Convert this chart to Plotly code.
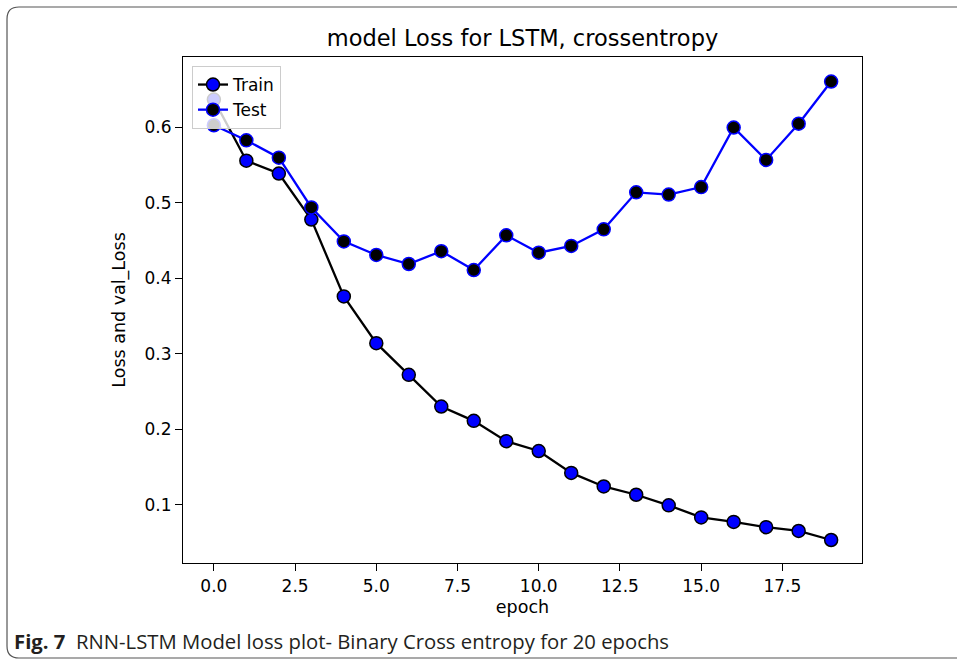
import plotly.graph_objects as go

# ---- data ----
epochs = list(range(20))
train_loss = [0.637, 0.556, 0.539, 0.478, 0.376, 0.314, 0.272, 0.230, 0.211, 0.184,
              0.171, 0.142, 0.124, 0.113, 0.099, 0.083, 0.077, 0.070, 0.065, 0.053]
test_loss = [0.603, 0.583, 0.560, 0.494, 0.449, 0.431, 0.419, 0.436, 0.411, 0.457,
             0.434, 0.443, 0.465, 0.514, 0.511, 0.521, 0.600, 0.557, 0.605, 0.661]
x_ticks = [0.0, 2.5, 5.0, 7.5, 10.0, 12.5, 15.0, 17.5]
y_ticks = [0.1, 0.2, 0.3, 0.4, 0.5, 0.6]

title_text = "model Loss for LSTM, crossentropy"
x_label = "epoch"
y_label = "Loss and val_Loss"
caption_bold = "Fig. 7"
caption_text = "RNN-LSTM Model loss plot- Binary Cross entropy for 20 epochs"

# ---- layout geometry (pixels) ----
W, H = 957, 662
L, R, T, B = 183, 862, 57, 563  # plot-area edges in px


def px2paper(px, py):
    return (px - L) / (R - L), (B - py) / (B - T)


font_mpl = "DejaVu Sans"

fig = go.Figure()
fig.add_trace(go.Scatter(
    x=epochs, y=train_loss, mode="lines+markers", name="Train",
    line=dict(color="black", width=2.3),
    marker=dict(symbol="circle", size=13, color="#0000ff", line=dict(color="black", width=1.5)),
))
fig.add_trace(go.Scatter(
    x=epochs, y=test_loss, mode="lines+markers", name="Test",
    line=dict(color="#0000ff", width=2.3),
    marker=dict(symbol="circle", size=13, color="black", line=dict(color="#0000ff", width=1.5)),
))

# outer rounded frame (extends past right edge)
x0, y0, x1, y1, r = 7, 7, 990, 658, 12


def P(px, py):
    a, b = px2paper(px, py)
    return f"{a:.5f},{b:.5f}"


path = (f"M {P(x1, y0)} L {P(x0 + r, y0)} Q {P(x0, y0)} {P(x0, y0 + r)} "
        f"L {P(x0, y1 - r)} Q {P(x0, y1)} {P(x0 + r, y1)} L {P(x1, y1)}")

fig.update_layout(
    width=W, height=H,
    margin=dict(l=L, r=W - R, t=T, b=H - B, pad=0),
    paper_bgcolor="white", plot_bgcolor="white",
    showlegend=True,
    legend=dict(
        x=px2paper(192, 0)[0], y=px2paper(0, 66)[1], xanchor="left", yanchor="top",
        bgcolor="rgba(255,255,255,0.8)", bordercolor="#cccccc", borderwidth=1,
        font=dict(family=font_mpl, size=17, color="black"),
        itemsizing="trace", tracegroupgap=4, entrywidth=72,
    ),
    title=dict(text=title_text, x=(L + R) / 2 / W, xanchor="center",
               y=1 - 38 / H, yanchor="middle",
               font=dict(family=font_mpl, size=22.5, color="black")),
    xaxis=dict(
        range=[-0.95, 19.95], tickvals=x_ticks, tickformat=".1f",
        showgrid=False, zeroline=False,
        showline=True, linecolor="black", linewidth=1.2, mirror=True,
        ticks="outside", ticklen=7, tickwidth=1.2, tickcolor="black",
        tickfont=dict(family=font_mpl, size=17, color="black"),
        title=dict(text=x_label, font=dict(family=font_mpl, size=17.5, color="black"), standoff=6),
    ),
    yaxis=dict(
        range=[0.0225, 0.6935], tickvals=y_ticks, tickformat=".1f",
        showgrid=False, zeroline=False,
        showline=True, linecolor="black", linewidth=1.2, mirror=True,
        ticks="outside", ticklen=7, tickwidth=1.2, tickcolor="black",
        tickfont=dict(family=font_mpl, size=17, color="black"),
        title=dict(text=y_label, font=dict(family=font_mpl, size=17.5, color="black"), standoff=14),
    ),
    shapes=[dict(type="path", xref="paper", yref="paper", path=path,
                 line=dict(color="#555555", width=1.2), fillcolor="rgba(0,0,0,0)",
                 layer="below")],
    annotations=[dict(
        x=px2paper(12, 0)[0], y=px2paper(0, 641)[1], xref="paper", yref="paper",
        xanchor="left", yanchor="middle", showarrow=False,
        text=f"<b>{caption_bold}</b>  {caption_text}",
        font=dict(family="Open Sans", size=20.3, color="#231f20"),
    )],
)

fig.write_html("out.html")
